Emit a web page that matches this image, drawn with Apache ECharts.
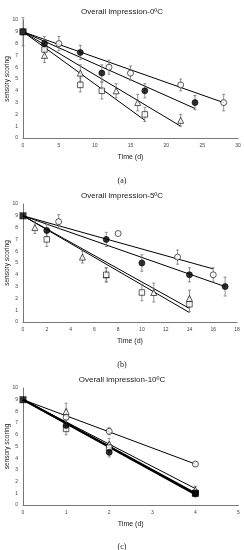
<!DOCTYPE html>
<html><head><meta charset="utf-8">
<script src="https://cdn.jsdelivr.net/npm/echarts@6/dist/echarts.min.js"></script>
<style>html,body{margin:0;padding:0;background:#fff}#c{width:244px;height:550px}</style>
</head><body><div id="c"></div>
<script>
// ---- Panel titles / ticks ----
const panelTitles = ['Overall impression-0ºC','Overall impression-5ºC','Overall impression-10ºC'];
const captions = ['(a)','(b)','(c)'];
const xMax = [30, 18, 5];
const xStep = [5, 2, 1];
const yMax = 10, yStep = 1;

// ---- Panel (a) 0ºC ----
const a_ocX = [0,5,12,15,22,28], a_ocY = [9,8,6,5.5,4.5,3], a_ocE = [1.2,0.6,0.6,0.6,0.5,0.7];
const a_fcX = [3,8,11,17,24],   a_fcY = [8,7.25,5.5,4,3],   a_fcE = [0.6,0.6,0.7,0.6,0.6];
const a_trX = [3,8,13,16,22],   a_trY = [7,5.5,4,3,1.5],    a_trE = [0.6,0.7,0.6,0.7,0.5];
const a_sqX = [3,8,11,17],      a_sqY = [7.5,4.5,4,2],      a_sqE = [0.7,0.6,0.7,0.6];
const a_trend = {oc:[28,3], fc:[24,2.5], tr:[22,1], sq:[17,1.5]};

// ---- Panel (b) 5ºC ----
const b_ocX = [3,8,13,16],      b_ocY = [8.5,7.5,5.5,4],    b_ocE = [0.6,0,0.6,0.6];
const b_fcX = [2,7,10,14,17],   b_fcY = [7.75,7,5,4,3],     b_fcE = [0.5,0.6,0.7,0.6,0.8];
const b_trX = [1,5,7,11,14],    b_trY = [8,5.5,4,2.5,2],    b_trE = [0.5,0.5,0.6,0.8,0.7];
const b_sqX = [2,7,10,14],      b_sqY = [7,4,2.5,1.5],      b_sqE = [0.6,0.6,0.7,0.6];
const b_trend = {oc:[16,4.5], fc:[17,3], tr:[14,1.15], sq:[14,0.8]};

// ---- Panel (c) 10ºC ----
const c_ocX = [1,2,4], c_ocY = [7.5,6.3,3.5], c_ocE = [0.6,0.3,0.2];
const c_trX = [1,2,4], c_trY = [8,5.2,1.3],   c_trE = [0.7,0.5,0.3];
const c_fcX = [1,2,4], c_fcY = [6.8,4.5,1.0], c_fcE = [0.5,0.4,0.3];
const c_sqX = [1,2,4], c_sqY = [6.5,4.9,1.0], c_sqE = [0.5,0.4,0.3];
const c_trend = {oc:[4,3.5], tr:[4,1.4], fc:[4,1.0], sq:[4,0.9]};

const startPt = [0, 9];
const endSquares = [[], [], [[4,1.0]]];
const yName = 'sensory scoring';

// ---------- build ----------
const gridTops = [20, 204, 388];
const gridH = [118, 118, 117];
const titleY = [3, 187, 371];
const capY = [172, 356, 538];

const panels = [
  {oc:[a_ocX,a_ocY,a_ocE], fc:[a_fcX,a_fcY,a_fcE], tr:[a_trX,a_trY,a_trE], sq:[a_sqX,a_sqY,a_sqE], trend:a_trend, thick:false},
  {oc:[b_ocX,b_ocY,b_ocE], fc:[b_fcX,b_fcY,b_fcE], tr:[b_trX,b_trY,b_trE], sq:[b_sqX,b_sqY,b_sqE], trend:b_trend, thick:false},
  {oc:[c_ocX,c_ocY,c_ocE], fc:[c_fcX,c_fcY,c_fcE], tr:[c_trX,c_trY,c_trE], sq:[c_sqX,c_sqY,c_sqE], trend:c_trend, thick:true}
];

const zip = (xs, ys) => xs.map((x,i)=>[x, ys[i]]);
const grids=[], xAxes=[], yAxes=[], series=[], titles=[], graphics=[];
const tickFont = {fontSize:5, color:'#444', fontFamily:'Liberation Sans'};

panels.forEach((p, i) => {
  grids.push({left:23, width: (i===2?215.5:(i===1?214:215)), top:gridTops[i], height:gridH[i],
    containLabel:false, outerBoundsMode:'none'});
  xAxes.push({type:'value', gridIndex:i, min:0, max:xMax[i], interval:xStep[i],
    axisLine:{lineStyle:{color:'#777', width:1}}, axisTick:{show:false}, splitLine:{show:false},
    axisLabel:Object.assign({margin:5}, tickFont),
    name:'Time (d)', nameLocation:'middle', nameGap:16,
    nameTextStyle:{fontSize:7, color:'#222', fontFamily:'Liberation Sans'}});
  yAxes.push({type:'value', gridIndex:i, min:0, max:yMax, interval:yStep,
    axisLine:{show:true, lineStyle:{color:'#777', width:1}}, axisTick:{show:false}, splitLine:{show:false},
    axisLabel:Object.assign({margin:5}, tickFont)});
  graphics.push({type:'text', x:7, y:gridTops[i]+gridH[i]/2, rotation:Math.PI/2,
    style:{text:yName, fontSize:6.5, fill:'#222', fontFamily:'Liberation Sans', align:'center', verticalAlign:'middle'}});
  titles.push({text:panelTitles[i], left:'center', top:titleY[i],
    textStyle:{fontSize:8, fontWeight:'normal', color:'#222', fontFamily:'Liberation Sans'}});
  titles.push({text:captions[i], left:'center', top:capY[i],
    textStyle:{fontSize:8, fontWeight:'normal', color:'#222', fontFamily:'Liberation Serif'}});

  ['oc','fc','tr','sq'].forEach(k => {
    const thick = p.thick && (k==='fc' || k==='sq');
    series.push({type:'line', xAxisIndex:i, yAxisIndex:i, data:[startPt, p.trend[k]],
      symbol:'none', silent:true, z:2, lineStyle:{color:'#000', width: thick?2:1}});
  });

  ['oc','fc','tr','sq'].forEach(k => {
    const [xs, ys, es] = p[k];
    series.push({type:'custom', xAxisIndex:i, yAxisIndex:i, z:3, silent:true,
      data: xs.map((x,j)=>[x, ys[j]-es[j], ys[j]+es[j]]),
      renderItem: (params, api) => {
        const lo = api.coord([api.value(0), api.value(1)]);
        const hi = api.coord([api.value(0), api.value(2)]);
        const st = {stroke:'#777', lineWidth:0.8};
        return {type:'group', children:[
          {type:'line', shape:{x1:lo[0],y1:lo[1],x2:hi[0],y2:hi[1]}, style:st},
          {type:'line', shape:{x1:lo[0]-1.5,y1:lo[1],x2:lo[0]+1.5,y2:lo[1]}, style:st},
          {type:'line', shape:{x1:hi[0]-1.5,y1:hi[1],x2:hi[0]+1.5,y2:hi[1]}, style:st}
        ]};
      }});
  });

  const mk = (k, symbol, size, filled) => {
    const [xs, ys] = p[k];
    series.push({type:'scatter', xAxisIndex:i, yAxisIndex:i, z:5, data:zip(xs,ys),
      symbol, symbolSize:size,
      itemStyle:{color: filled?'#000':'#fff', borderColor:'#000', borderWidth:0.8}});
  };
  mk('oc','circle',6,false);
  mk('tr','triangle',6,false);
  mk('sq','rect',5.5,false);
  mk('fc','circle',6,true);

  series.push({type:'scatter', xAxisIndex:i, yAxisIndex:i, z:6, data:[startPt].concat(endSquares[i]),
    symbol:'rect', symbolSize:7, itemStyle:{color:'#000'}});
});

const chart = echarts.init(document.getElementById('c'), null, {renderer:'canvas'});
chart.setOption({animation:false, backgroundColor:'#fff', title:titles, grid:grids, xAxis:xAxes, yAxis:yAxes, series, graphic:graphics});
</script></body></html>
